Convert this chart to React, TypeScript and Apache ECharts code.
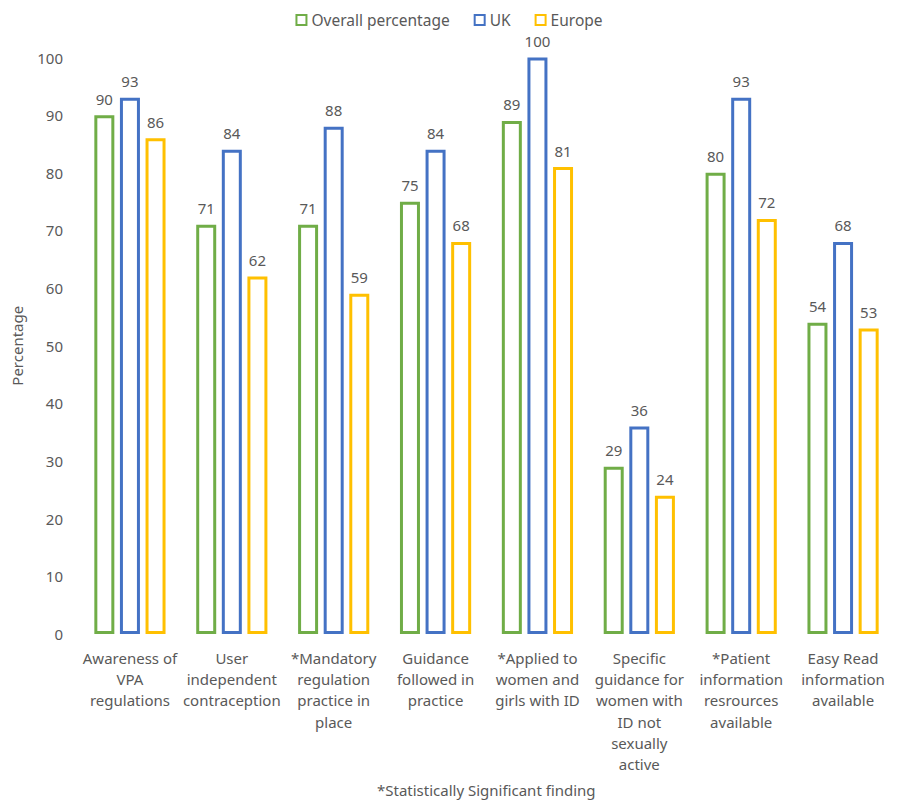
import React, { useEffect, useRef } from "react";
import * as echarts from "echarts";

const categories = [
  "Awareness of\nVPA\nregulations",
  "User\nindependent\ncontraception",
  "*Mandatory\nregulation\npractice in\nplace",
  "Guidance\nfollowed in\npractice",
  "*Applied to\nwomen and\ngirls with ID",
  "Specific\nguidance for\nwomen with\nID not\nsexually\nactive",
  "*Patient\ninformation\nresrources\navailable",
  "Easy Read\ninformation\navailable",
];
const overall = [90, 71, 71, 75, 89, 29, 80, 54];
const uk = [93, 84, 88, 84, 100, 36, 93, 68];
const europe = [86, 62, 59, 68, 81, 24, 72, 53];
const seriesNames = ["Overall percentage", "UK", "Europe"];
const colors = ["#70AD47", "#4472C4", "#FFC000"];
const footnote = "*Statistically Significant finding";

const FONT = "Noto Sans";
const GRAY = "#595959";

export default function App() {
  const ref = useRef<HTMLDivElement>(null);
  useEffect(() => {
    const chart = echarts.init(ref.current!, undefined, { renderer: "svg" });
    const mk = (name: string, data: number[], color: string) => ({
      name,
      type: "bar",
      data,
      barWidth: 20,
      barGap: "28%",
      itemStyle: { color: "rgba(255,255,255,0)", borderColor: color, borderWidth: 3 },
      label: {
        show: true,
        position: "top",
        distance: 9,
        color: GRAY,
        fontSize: 15,
        fontFamily: FONT,
      },
    });
    chart.setOption({
      animation: false,
      textStyle: { fontFamily: FONT },
      legend: {
        top: 7,
        left: "center",
        itemWidth: 10,
        itemHeight: 10,
        itemGap: 24,
        icon: "rect",
        textStyle: { color: GRAY, fontSize: 15.5, fontFamily: FONT },
        data: seriesNames,
      },
      grid: { left: 79, right: 4, top: 57.5, bottom: 168 },
      xAxis: {
        type: "category",
        data: categories,
        axisLine: { show: false },
        axisTick: { show: false },
        axisLabel: {
          color: GRAY,
          fontSize: 15,
          fontFamily: FONT,
          lineHeight: 21.3,
          margin: 13,
          interval: 0,
          verticalAlign: "top",
        },
      },
      yAxis: {
        type: "value",
        min: 0,
        max: 100,
        interval: 10,
        name: "Percentage",
        nameLocation: "middle",
        nameGap: 55,
        nameTextStyle: { color: GRAY, fontSize: 15, fontFamily: FONT },
        splitLine: { show: false },
        axisLine: { show: false },
        axisTick: { show: false },
        axisLabel: { color: GRAY, fontSize: 15, fontFamily: FONT, margin: 16 },
      },
      graphic: [
        {
          type: "text",
          left: 377,
          top: 782,
          style: { text: footnote, fill: GRAY, fontSize: 15, fontFamily: FONT },
        },
      ],
      series: [
        mk(seriesNames[0], overall, colors[0]),
        mk(seriesNames[1], uk, colors[1]),
        mk(seriesNames[2], europe, colors[2]),
      ],
    });
    return () => chart.dispose();
  }, []);
  return <div ref={ref} style={{ width: 898, height: 802, position: "absolute", left: 0, top: 0 }} />;
}
